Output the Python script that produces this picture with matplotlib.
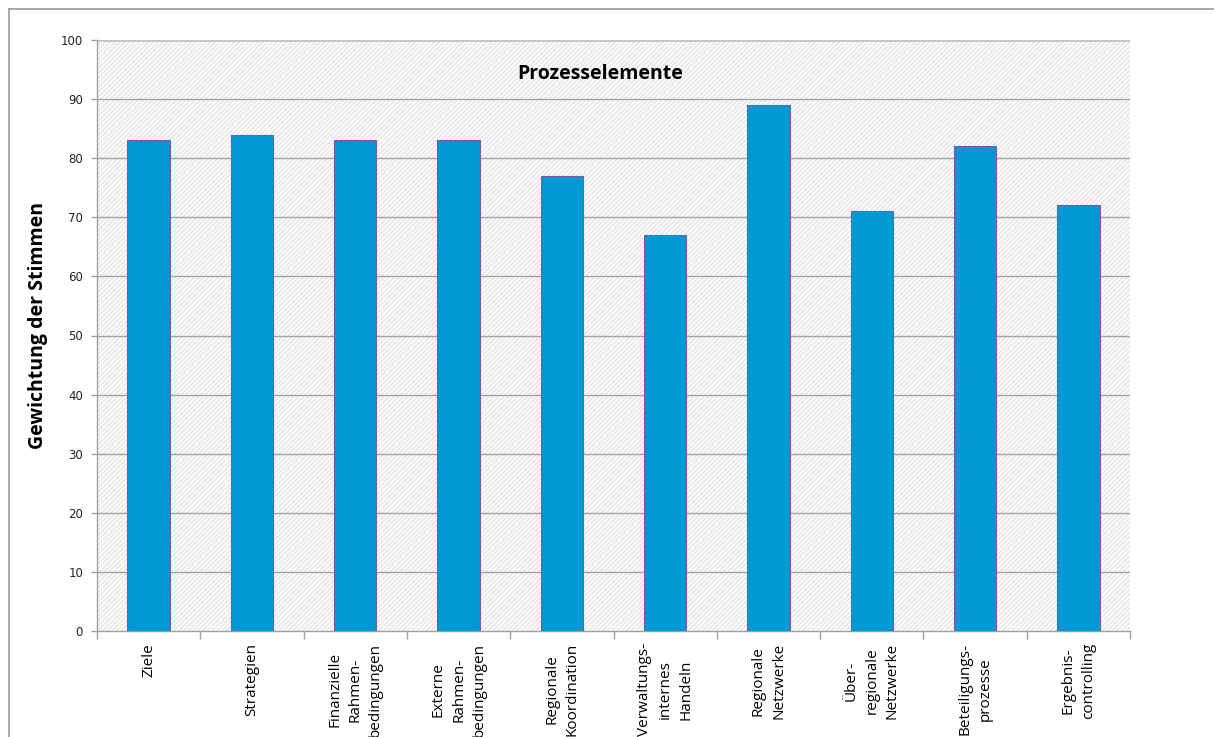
import matplotlib
matplotlib.use("Agg")
import matplotlib.pyplot as plt
import numpy as np
from matplotlib.patches import Rectangle
from matplotlib.lines import Line2D

categories = [
    "Ziele",
    "Strategien",
    "Finanzielle\nRahmen-\nbedingungen",
    "Externe\nRahmen-\nbedingungen",
    "Regionale\nKoordination",
    "Verwaltungs-\ninternes\nHandeln",
    "Regionale\nNetzwerke",
    "Über-\nregionale\nNetzwerke",
    "Beteiligungs-\nprozesse",
    "Ergebnis-\ncontrolling",
]
values = [83, 84, 83, 83, 77, 67, 89, 71, 82, 72]
yticks = [0, 10, 20, 30, 40, 50, 60, 70, 80, 90, 100]

plt.rcParams["hatch.linewidth"] = 1.2
plt.rcParams["hatch.color"] = "#e6e6e6"

W, H = 1214, 737
fig = plt.figure(figsize=(W / 100, H / 100), dpi=100)
ax = fig.add_axes([97 / W, 1 - 631 / H, (1130 - 97) / W, (631 - 40) / H])

# striped plot background
ax.add_patch(Rectangle((0, 0), 1, 1, transform=ax.transAxes, facecolor="white",
                       edgecolor="#e6e6e6", hatch="///////", linewidth=0, zorder=0))

x = np.arange(len(categories))
ax.bar(x, values, width=0.41, color="#0099d6", edgecolor="#7a5c9a", linewidth=0.8, zorder=3)

ax.set_xlim(-0.5, len(categories) - 0.5)
ax.set_ylim(0, 100)
ax.set_yticks(yticks)
ax.set_yticklabels([str(v) for v in yticks], fontsize=8.5, color="#222222", family="DejaVu Sans")
for v in yticks[1:-1]:
    ax.axhline(v, color="#a3a3a3", linewidth=1.0, zorder=1)
ax.axhline(100, color="#c4c4c4", linewidth=2.0, zorder=1)

# category boundaries as x ticks, labels under the bar centres
ax.set_xticks(np.arange(len(categories) + 1) - 0.5)
ax.set_xticklabels([])
ax.tick_params(axis="x", direction="out", length=6, color="#a0a0a0", width=1)
ax.tick_params(axis="y", direction="out", length=4, color="#a0a0a0", width=1, pad=6)
for xi, lab in zip(x, categories):
    ax.text(xi, -2, lab, rotation=90, ha="center", va="top", multialignment="center",
            fontsize=11, family="Open Sans", linespacing=1.5, clip_on=False)

for side in ("top", "right"):
    ax.spines[side].set_visible(False)
for side in ("left", "bottom"):
    ax.spines[side].set_color("#a0a0a0")
    ax.spines[side].set_linewidth(1.0)

ax.text(0.487, 0.943, "Prozesselemente", transform=ax.transAxes, ha="center", va="center",
        fontsize=14, fontweight="bold", family="Open Sans", zorder=4)
fig.text(38 / W, 1 - 325.5 / H, "Gewichtung der Stimmen", rotation=90, ha="center",
         va="center", fontsize=14, fontweight="bold", family="Open Sans")

# outer frame lines
fig.add_artist(Line2D([9 / W, 1], [1 - 9 / H, 1 - 9 / H], color="#999999", linewidth=1.2))
fig.add_artist(Line2D([9 / W, 9 / W], [0, 1 - 9 / H], color="#999999", linewidth=1.2))

fig.savefig("out.png", dpi=100)
